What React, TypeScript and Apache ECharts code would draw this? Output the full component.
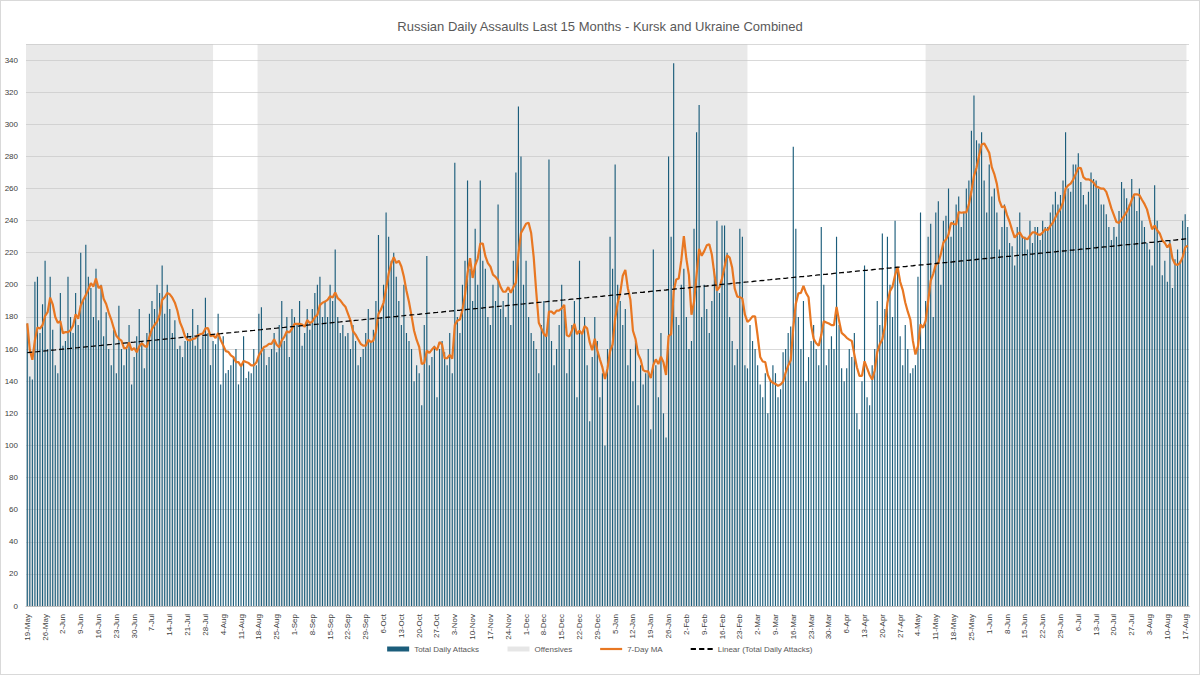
import React, { useEffect, useRef } from 'react';
import * as echarts from 'echarts';

const startDate = '2024-05-19';

// daily assaults, one row per week starting Sunday
const weeks: number[][] = [
  [176, 143, 141, 202, 205, 170, 188],
  [215, 160, 205, 172, 150, 145, 195],
  [162, 165, 205, 180, 170, 195, 175],
  [220, 190, 225, 205, 198, 180, 210],
  [178, 200, 168, 183, 160, 150, 172],
  [145, 187, 160, 150, 160, 175, 138],
  [155, 168, 185, 165, 148, 170, 182],
  [190, 185, 200, 195, 212, 182, 200],
  [185, 170, 178, 160, 162, 155, 165],
  [170, 168, 185, 162, 175, 160, 168],
  [192, 170, 150, 165, 163, 182, 138],
  [168, 145, 147, 150, 155, 160, 138],
  [150, 168, 142, 146, 145, 160, 150],
  [182, 186, 160, 150, 155, 160, 170],
  [158, 175, 190, 165, 180, 155, 185],
  [180, 175, 190, 162, 170, 185, 172],
  [185, 195, 200, 205, 180, 190, 180],
  [200, 190, 222, 180, 170, 175, 168],
  [170, 160, 175, 165, 150, 155, 160],
  [170, 185, 165, 172, 190, 231, 180],
  [200, 245, 230, 215, 220, 205, 190],
  [175, 200, 170, 165, 160, 140, 150],
  [145, 125, 175, 218, 150, 155, 162],
  [130, 160, 165, 158, 150, 170, 145],
  [276, 180, 170, 200, 215, 265, 210],
  [190, 235, 200, 265, 215, 210, 180],
  [175, 200, 190, 250, 185, 190, 180],
  [195, 175, 215, 270, 311, 280, 200],
  [215, 180, 170, 165, 160, 145, 175],
  [190, 170, 278, 165, 150, 160, 175],
  [200, 185, 145, 160, 175, 190, 130],
  [215, 170, 180, 150, 115, 155, 180],
  [165, 130, 145, 100, 160, 230, 210],
  [275, 200, 190, 175, 185, 150, 160],
  [140, 165, 125, 150, 138, 145, 160],
  [110, 222, 150, 130, 170, 120, 105],
  [280, 230, 338, 180, 175, 200, 210],
  [180, 160, 165, 235, 295, 312, 180],
  [200, 185, 170, 190, 210, 240, 195],
  [237, 237, 220, 180, 165, 150, 160],
  [235, 230, 150, 148, 175, 165, 160],
  [150, 138, 130, 145, 120, 140, 150],
  [145, 130, 135, 158, 160, 170, 174],
  [286, 235, 180, 160, 190, 140, 155],
  [165, 175, 160, 150, 236, 200, 150],
  [160, 168, 160, 230, 175, 148, 140],
  [148, 160, 155, 170, 120, 110, 140],
  [212, 130, 125, 150, 160, 190, 175],
  [232, 185, 230, 200, 180, 240, 210],
  [168, 150, 175, 160, 145, 148, 150],
  [205, 245, 160, 190, 230, 238, 180],
  [245, 252, 200, 240, 243, 260, 230],
  [240, 250, 255, 236, 245, 260, 265],
  [296, 318, 290, 288, 295, 265, 245],
  [275, 255, 260, 245, 222, 236, 250],
  [236, 226, 224, 212, 236, 245, 230],
  [230, 222, 240, 226, 236, 236, 228],
  [240, 236, 236, 245, 250, 258, 250],
  [256, 265, 295, 260, 258, 275, 275],
  [282, 264, 256, 250, 258, 270, 266],
  [265, 260, 250, 250, 244, 236, 228],
  [236, 230, 246, 264, 260, 254, 250],
  [266, 255, 246, 260, 240, 236, 226],
  [222, 212, 262, 240, 226, 206, 215],
  [202, 228, 198, 216, 222, 215, 240],
  [244, 236],
];

// offensive periods (start, end day keys)
const offensives: [string, string][] = [
  ['19-May-24', '30-Jul-24'],
  ['18-Aug-24', '26-Feb-25'],
  ['5-May-25', '18-Aug-25'],
];

const months = ['Jan', 'Feb', 'Mar', 'Apr', 'May', 'Jun', 'Jul', 'Aug', 'Sep', 'Oct', 'Nov', 'Dec'];

const App: React.FC = () => {
  const chartRef = useRef<HTMLDivElement>(null);

  useEffect(() => {
    document.body.style.margin = '0';
    const chart = echarts.init(chartRef.current!, undefined, { renderer: 'svg' });

    const values = weeks.flat();
    const d0 = new Date(startDate + 'T00:00:00Z');
    const cats: string[] = values.map((_, i) => {
      const d = new Date(d0.getTime() + i * 86400000);
      return `${d.getUTCDate()}-${months[d.getUTCMonth()]}-${String(d.getUTCFullYear()).slice(2)}`;
    });

    const ma = values.map((_, i) => {
      const s = values.slice(Math.max(0, i - 6), i + 1);
      return +(s.reduce((a, b) => a + b, 0) / s.length).toFixed(1);
    });

    // least squares trend line
    const n = values.length;
    const mx = (n - 1) / 2;
    const my = values.reduce((a, b) => a + b, 0) / n;
    let sxy = 0, sxx = 0;
    values.forEach((v, i) => { sxy += (i - mx) * (v - my); sxx += (i - mx) ** 2; });
    const slope = sxy / sxx;
    const trend = values.map((_, i) => +(my + slope * (i - mx)).toFixed(1));

    const lineIcon = 'path://M0,0 L20,0 L20,2 L0,2 Z';
    const dashIcon = 'path://M0,0 L5,0 L5,2 L0,2 Z M8,0 L13,0 L13,2 L8,2 Z M16,0 L21,0 L21,2 L16,2 Z';

    const option = {
      animation: false,
      title: {
        text: 'Russian Daily Assaults Last 15 Months - Kursk and Ukraine Combined',
        left: 'center',
        top: 14,
        textStyle: { fontSize: 13, fontWeight: 'normal', color: '#595959', fontFamily: 'Liberation Sans' },
      },
      legend: {
        bottom: 16,
        itemWidth: 22,
        itemHeight: 5,
        itemGap: 28,
        textStyle: { fontSize: 8, color: '#595959', fontFamily: 'Liberation Sans' },
        data: [
          { name: 'Total Daily Attacks', icon: 'rect' },
          { name: 'Offensives', icon: 'rect' },
          { name: '7-Day MA', icon: lineIcon, itemStyle: { color: '#e87722' } },
          { name: 'Linear (Total Daily Attacks)', icon: dashIcon, itemStyle: { color: '#000' } },
        ],
      },
      grid: { left: 25, right: 10, top: 43, bottom: 68 },
      xAxis: {
        type: 'category',
        data: cats,
        axisTick: { show: false },
        axisLine: { lineStyle: { color: '#bfbfbf' } },
        axisLabel: {
          interval: 6,
          rotate: 90,
          fontSize: 8,
          color: '#404040',
          fontFamily: 'Liberation Sans',
          formatter: (v: string) => v.split('-').slice(0, 2).join('-'),
        },
      },
      yAxis: {
        type: 'value',
        min: 0,
        max: 350,
        interval: 20,
        axisLabel: {
          fontSize: 8,
          color: '#404040',
          fontFamily: 'Liberation Sans',
          formatter: (v: number) => (v > 340 ? '' : String(v)),
        },
        splitLine: { lineStyle: { color: '#d9d9d9' } },
      },
      series: [
        {
          name: 'Offensives',
          type: 'bar',
          data: [],
          itemStyle: { color: '#e6e6e6' },
          markArea: {
            silent: true,
            itemStyle: { color: 'rgba(200,200,200,0.4)' },
            data: offensives.map(([a, b]) => [{ xAxis: a }, { xAxis: b }]),
          },
        },
        {
          name: 'Total Daily Attacks',
          type: 'bar',
          data: values,
          barWidth: '45%',
          barGap: '-100%',
          itemStyle: { color: '#1b5d7b' },
        },
        {
          name: '7-Day MA',
          type: 'line',
          data: ma,
          symbol: 'none',
          lineStyle: { color: '#e87722', width: 2.2 },
          itemStyle: { color: '#e87722' },
        },
        {
          name: 'Linear (Total Daily Attacks)',
          type: 'line',
          data: trend,
          symbol: 'none',
          lineStyle: { color: '#000', width: 1.3, type: [5, 3] },
          itemStyle: { color: '#000' },
        },
      ],
    };

    chart.setOption(option);
    return () => chart.dispose();
  }, []);

  return (
    <div style={{ width: 1200, height: 675, boxSizing: 'border-box', border: '1px solid #d9d9d9', background: '#fff' }}>
      <div ref={chartRef} style={{ width: '100%', height: '100%' }} />
    </div>
  );
};

export default App;
